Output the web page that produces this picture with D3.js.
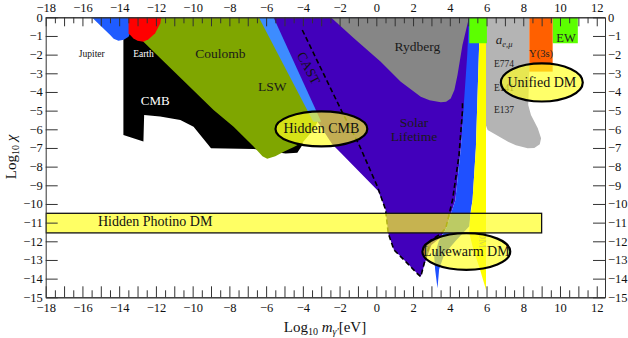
<!DOCTYPE html>
<html>
<head>
<meta charset="utf-8">
<script src="https://cdn.jsdelivr.net/npm/d3@7"></script>
<style>
  body { margin: 0; background: #fff; }
  text { font-family: 'Liberation Serif', 'Times New Roman', serif; }
</style>
</head>
<body>
<svg id="chart"></svg>
<script>
// axis ranges and ticks
const xDomain = [-18, 12.45]
const yDomain = [0, -15]
const xTicks = d3.range(-18, 13, 1)
const xMinorTicks = d3.range(-17.5, 12.5, 1)
const yTicks = d3.range(-15, 1, 1)

// excluded regions, [log10 m, log10 chi]
const cmbRegion = [[-13.77, -0.6], [-12.5, -1.0], [-4.2, -6.0], [-4.0, -6.8], [-4.3, -7.25], [-4.94, -7.3], [-6.67, -7.05], [-9.0, -7.02], [-9.22, -6.75], [-9.95, -5.86], [-10.67, -5.5], [-11.77, -5.32], [-12.64, -5.23], [-12.68, -6.66], [-13.77, -6.3]]
const coulombRegion = [[-12.9, -1.0], [-12.9, 0], [-6.0, 0], [-3.2, -5.6], [-3.4, -6.0], [-4.0, -6.7], [-4.49, -6.95], [-5.04, -7.2], [-5.5, -7.45], [-5.94, -7.58], [-6.2, -7.45], [-6.67, -6.93], [-7.77, -5.86], [-8.86, -4.97], [-12.68, -1.31]]
const solarRegion = [[-5.8, 0], [5.1, 0], [4.95, -3], [4.6, -7], [4.3, -9.8], [3.8, -11.3], [3.5, -11.8], [3.0, -12.2], [2.7, -13.0], [2.42, -13.9], [2.2, -13.7], [1.69, -13.18], [0.96, -12.46], [0.65, -11.57], [0.5, -10.3], [0.1, -9.3], [-1.9, -7.3], [-2.4, -6.8], [-3.2, -5.6]]
const lswRegion = [[-6.4, 0], [-5.6, 0], [-3.0, -5.6], [-3.43, -5.6]]
const rydbergRegion = [[-2.48, 0], [5.05, 0], [4.69, -1.48], [4.42, -3.09], [4.25, -3.9], [4.05, -4.35], [3.8, -4.52], [3.51, -4.55], [2.9, -4.45], [2.42, -4.25], [1.33, -3.45], [0.24, -2.38], [-1.22, -1.12]]
const leptonRegion = [[5.97, 0], [8.33, 0], [8.33, -2.9], [8.27, -4.7], [8.42, -5.23], [8.79, -5.95], [8.97, -6.48], [8.9, -6.8], [8.6, -7.0], [8.24, -7.02], [7.6, -6.85], [7.15, -6.66], [6.06, -6.04], [5.97, -5.8]]
const blueBand = [[5.05, 0], [4.95, -2], [4.6, -7], [4.3, -9.8], [3.8, -11.3], [3.4, -12.0], [3.15, -12.8], [3.2, -13.5], [3.33, -14.52], [3.42, -13.5], [3.7, -12.7], [4.3, -12.0], [5.06, -11.2], [5.15, -10.3], [5.24, -9.78], [5.42, -7], [5.6, -1.4], [5.65, 0]]
const yellowBand = [[5.6, 0], [5.97, 0], [5.97, -14.6], [5.6, -13.36], [5.3, -12.5], [5.06, -11.57], [5.1, -10.8], [5.24, -9.78], [5.42, -7], [5.6, -1.4]]
const jupiterRegion = [[-15.49, 0], [-13.22, 0], [-13.22, -0.14], [-13.3, -0.6], [-13.49, -1.04], [-13.75, -1.2], [-14.04, -1.25], [-14.3, -1.15], [-14.49, -0.95]]
const earthRegion = [[-13.49, 0], [-11.71, 0], [-11.76, -0.32], [-12.04, -0.86], [-12.4, -1.18], [-12.68, -1.31], [-13.0, -1.25], [-13.22, -1.13], [-13.49, -0.86]]

// boxes: [x0, x1, bottom]
const ewBoxes = [[5.06, 6.02, -1.39], [9.6, 10.97, -1.39]]
const upsilonBox = [[8.33, 9.6, -2.91]]

// CAST bound (dashed)
const castLine = [[-4.03, -0.68], [-1.9, -5.0], [-0.95, -6.8], [0.06, -9.07], [0.5, -10.3], [0.65, -11.57], [0.96, -12.46], [1.69, -13.18], [2.2, -13.7], [2.42, -13.9], [2.6, -13.2], [2.97, -11.95], [3.5, -11.6], [3.78, -11.3], [4.15, -9.78], [4.5, -7.4], [4.69, -5.0], [4.69, -4.5]]

// dark matter hints
const photinoBand = [[-18, 9.0, -10.5, -11.55]]
const dmEllipses = [
  { label: 'Hidden CMB', cx: -2.99, cy: -5.98, rx: 2.5, ry: 0.94 },
  { label: 'Unified DM', cx: 9.01, cy: -3.49, rx: 2.23, ry: 1.02 },
  { label: 'Lukewarm DM', cx: 4.9, cy: -12.55, rx: 2.39, ry: 0.98 }
]

const regionLabels = [
  { text: 'Jupiter', x: -15.49, y: -2.13 },
  { text: 'Earth', x: -12.68, y: -2.13 },
  { text: 'Coulomb', x: -8.49, y: -2.18 },
  { text: 'CMB', x: -12.04, y: -4.7 },
  { text: 'LSW', x: -5.67, y: -3.97 },
  { text: 'Rydberg', x: 2.24, y: -1.83 },
  { text: 'Solar', x: 2.05, y: -5.85 },
  { text: 'Lifetime', x: 2.05, y: -6.65 },
  { text: 'E774', x: 6.95, y: -2.64 },
  { text: 'E141', x: 6.95, y: -3.97 },
  { text: 'E137', x: 6.95, y: -5.15 },
  { text: 'Y(3s)', x: 8.97, y: -2.13 },
  { text: 'EW', x: 10.33, y: -1.3 },
  { text: 'Hidden Photino DM', x: -12.04, y: -11.2 }
]

drawChart()

function drawChart() {
  const width = 628
  const height = 338
  const serif = "'Liberation Serif', 'Times New Roman', serif"

  const svg = d3.select('#chart')
    .attr('width', width)
    .attr('height', height)

  const x = d3.scaleLinear().domain(xDomain).range([45.7, 605])
  const y = d3.scaleLinear().domain(yDomain).range([17.3, 297.3])

  svg.append('clipPath').attr('id', 'plot-clip')
    .append('rect')
    .attr('x', x(xDomain[0])).attr('y', y(yDomain[0]))
    .attr('width', x(xDomain[1]) - x(xDomain[0]))
    .attr('height', y(yDomain[1]) - y(yDomain[0]))

  const g = svg.append('g').attr('clip-path', 'url(#plot-clip)')

  const area = d3.line()
    .x(d => x(d[0]))
    .y(d => y(d[1]))
    .curve(d3.curveLinearClosed)

  const regions = [
    { pts: cmbRegion, fill: '#000000' },
    { pts: coulombRegion, fill: '#7fa600' },
    { pts: solarRegion, fill: '#4200bb' },
    { pts: lswRegion, fill: '#3d8cff' },
    { pts: rydbergRegion, fill: '#868686' },
    { pts: leptonRegion, fill: '#b4b4b4' },
    { pts: blueBand, fill: '#1f50ff' },
    { pts: yellowBand, fill: '#ffff00' },
    { pts: jupiterRegion, fill: '#1f5cff' },
    { pts: earthRegion, fill: '#ff0000' }
  ]

  g.append('g')
    .selectAll('path')
    .data(regions)
    .enter()
    .append('path')
    .attr('d', d => area(d.pts))
    .attr('fill', d => d.fill)

  g.append('g')
    .selectAll('rect')
    .data(ewBoxes.map(b => ({ b, fill: '#5cff00' })).concat(upsilonBox.map(b => ({ b, fill: '#ff6000' }))))
    .enter()
    .append('rect')
    .attr('x', d => x(d.b[0]))
    .attr('y', y(0))
    .attr('width', d => x(d.b[1]) - x(d.b[0]))
    .attr('height', d => y(d.b[2]) - y(0))
    .attr('fill', d => d.fill)

  // CAST dashed line
  g.append('path')
    .attr('d', d3.line().x(d => x(d[0])).y(d => y(d[1]))(castLine))
    .attr('fill', 'none')
    .attr('stroke', '#000')
    .attr('stroke-width', 1.6)
    .attr('stroke-dasharray', '5,3')

  // region labels
  const labelStyle = {
    'Jupiter': { size: 9.5, color: '#111' },
    'Earth': { size: 9.5, color: '#fff' },
    'CMB': { size: 13, color: '#fff' },
    'E774': { size: 9.5, color: '#222' },
    'E141': { size: 9.5, color: '#222' },
    'E137': { size: 9.5, color: '#222' },
    'Y(3s)': { size: 10.5, color: '#222' },
    'EW': { size: 12.5, color: '#222' }
  }

  g.append('g')
    .selectAll('text')
    .data(regionLabels.filter(d => d.text !== 'Hidden Photino DM'))
    .enter()
    .append('text')
    .attr('x', d => x(d.x))
    .attr('y', d => y(d.y))
    .attr('text-anchor', 'middle')
    .attr('font-family', serif)
    .attr('font-size', d => (labelStyle[d.text] || { size: 13.5 }).size + 'px')
    .attr('fill', d => (labelStyle[d.text] || { color: '#1a1a1a' }).color)
    .text(d => d.text)

  // a_{e,mu}
  const ae = g.append('text')
    .attr('x', x(6.96)).attr('y', y(-1.43))
    .attr('text-anchor', 'middle')
    .attr('font-family', serif)
    .attr('font-size', '13px')
    .attr('fill', '#222')
  ae.append('tspan').attr('font-style', 'italic').text('a')
  ae.append('tspan').attr('dy', 3).attr('font-size', '8.5px').attr('font-style', 'italic').text('e,μ')

  // CAST label, rotated
  g.append('text')
    .attr('transform', `translate(${x(-3.69)},${y(-2.72)}) rotate(62)`)
    .attr('text-anchor', 'middle')
    .attr('dominant-baseline', 'central')
    .attr('font-family', serif)
    .attr('font-size', '13.5px')
    .attr('fill', '#111')
    .text('CAST')

  // rotated DM label in yellow band
  g.append('text')
    .attr('transform', `translate(${x(5.79)},${y(-11.93)}) rotate(90)`)
    .attr('text-anchor', 'middle')
    .attr('dominant-baseline', 'central')
    .attr('font-family', serif)
    .attr('font-size', '10px')
    .attr('fill', '#888')
    .text('DM')

  // hidden photino band
  g.append('g')
    .selectAll('rect')
    .data(photinoBand)
    .enter()
    .append('rect')
    .attr('x', d => x(d[0]))
    .attr('y', d => y(d[2]))
    .attr('width', d => x(d[1]) - x(d[0]))
    .attr('height', d => y(d[3]) - y(d[2]))
    .attr('fill', '#ffff22')
    .attr('fill-opacity', 0.7)
    .attr('stroke', '#111')
    .attr('stroke-width', 1.3)

  const photino = regionLabels.find(d => d.text === 'Hidden Photino DM')
  g.append('text')
    .attr('x', x(photino.x)).attr('y', y(photino.y))
    .attr('text-anchor', 'middle')
    .attr('font-family', serif)
    .attr('font-size', '14px')
    .attr('fill', '#111')
    .text(photino.text)

  // dark matter ellipses
  const ell = g.append('g')
    .selectAll('g')
    .data(dmEllipses)
    .enter()
    .append('g')

  ell.append('ellipse')
    .attr('cx', d => x(d.cx))
    .attr('cy', d => y(d.cy))
    .attr('rx', d => x(d.cx + d.rx) - x(d.cx))
    .attr('ry', d => y(d.cy - d.ry) - y(d.cy))
    .attr('fill', '#ffff22')
    .attr('fill-opacity', 0.68)
    .attr('stroke', '#000')
    .attr('stroke-width', 2.2)

  ell.append('text')
    .attr('x', d => x(d.cx))
    .attr('y', d => y(d.cy))
    .attr('text-anchor', 'middle')
    .attr('dominant-baseline', 'central')
    .attr('font-family', serif)
    .attr('font-size', '14px')
    .attr('fill', '#111')
    .text(d => d.label)

  // axes
  const fmt = d => d === 0 ? '0' : (d < 0 ? '\u2212' + Math.abs(d) : String(d))
  const evenFmt = d => d % 2 === 0 ? fmt(d) : ''

  const axes = svg.append('g')

  axes.append('g')
    .attr('transform', `translate(0,${y(-15)})`)
    .call(d3.axisBottom(x).tickValues(xMinorTicks).tickSizeInner(-7).tickSizeOuter(0).tickFormat(''))
  axes.append('g')
    .attr('transform', `translate(0,${y(-15)})`)
    .call(d3.axisBottom(x).tickValues(xTicks).tickSizeInner(-11).tickSizeOuter(0).tickPadding(5.5).tickFormat(evenFmt))

  axes.append('g')
    .attr('transform', `translate(0,${y(0)})`)
    .call(d3.axisTop(x).tickValues(xMinorTicks).tickSizeInner(-6).tickSizeOuter(0).tickFormat(''))
  axes.append('g')
    .attr('transform', `translate(0,${y(0)})`)
    .call(d3.axisTop(x).tickValues(xTicks).tickSizeInner(-9).tickSizeOuter(0).tickPadding(5.5).tickFormat(evenFmt))

  axes.append('g')
    .attr('transform', `translate(${x(-18)},0)`)
    .call(d3.axisLeft(y).tickValues(yTicks).tickSizeInner(-12).tickSizeOuter(0).tickPadding(3).tickFormat(fmt))
  axes.append('g')
    .attr('transform', `translate(${x(xDomain[1])},0)`)
    .call(d3.axisRight(y).tickValues(yTicks).tickSizeInner(-12).tickSizeOuter(0).tickPadding(3).tickFormat(fmt))

  axes.selectAll('text')
    .attr('font-family', serif)
    .attr('font-size', '12.5px')
    .attr('fill', '#111')
  axes.selectAll('line, path').attr('stroke', '#333')

  // axis titles
  const yTitle = svg.append('text')
    .attr('transform', `translate(16,157) rotate(-90)`)
    .attr('text-anchor', 'middle')
    .attr('font-family', serif)
    .attr('font-size', '15px')
    .attr('fill', '#111')
  yTitle.append('tspan').text('Log')
  yTitle.append('tspan').attr('dy', 3).attr('font-size', '10px').text('10')
  yTitle.append('tspan').attr('dy', -3).text(' ')
  yTitle.append('tspan').attr('font-style', 'italic').text('χ')

  const xTitle = svg.append('text')
    .attr('x', 325).attr('y', 332)
    .attr('text-anchor', 'middle')
    .attr('font-family', serif)
    .attr('font-size', '15px')
    .attr('fill', '#111')
  xTitle.append('tspan').text('Log')
  xTitle.append('tspan').attr('dy', 3).attr('font-size', '10px').text('10')
  xTitle.append('tspan').attr('dy', -3).text(' ')
  xTitle.append('tspan').attr('font-style', 'italic').text('m')
  xTitle.append('tspan').attr('dy', 3).attr('font-size', '10px').attr('font-style', 'italic').text('γ′')
  xTitle.append('tspan').attr('dy', -3).text('[eV]')
}
</script>
</body>
</html>
